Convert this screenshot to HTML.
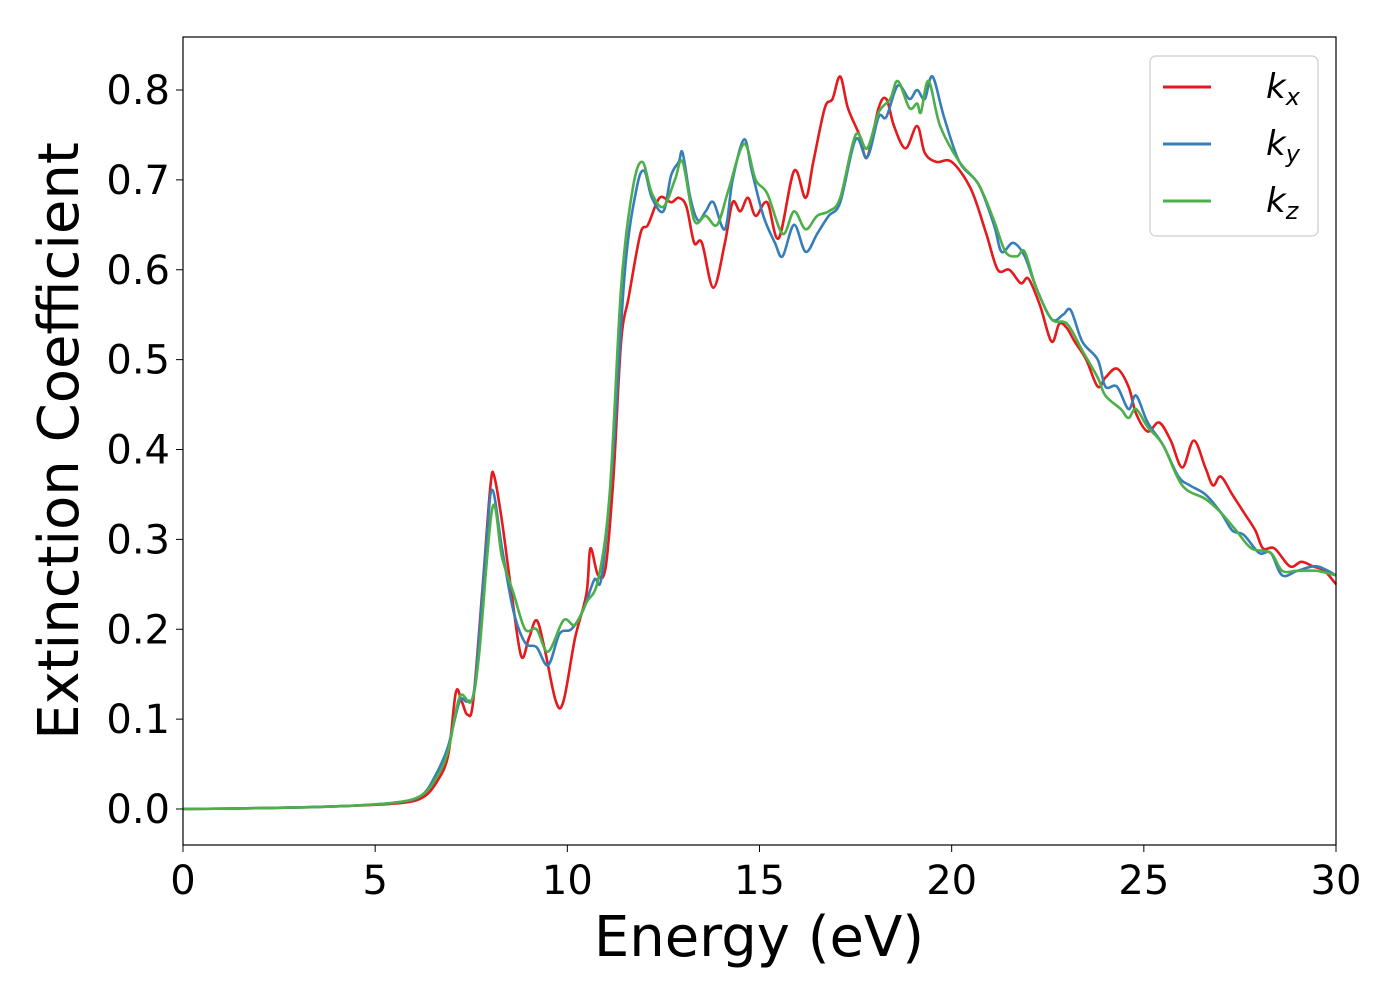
<!DOCTYPE html>
<html><head><meta charset="utf-8"><style>
body{margin:0;background:#fff}
svg{display:block;font-family:"DejaVu Sans","Liberation Sans",sans-serif}
</style></head><body>
<svg id="chart" width="1400" height="1000">
<rect x="0" y="0" width="1400" height="1000" fill="#fff"/>
<g id="series"></g>
<rect x="183" y="37" width="1153" height="808" fill="none" stroke="#000" stroke-width="1.2"/>
<g id="xticks"></g>
<g id="yticks"></g>
<text x="759" y="956" font-size="56" text-anchor="middle">Energy (eV)</text>
<text transform="translate(78,441) rotate(-90)" font-size="56" text-anchor="middle">Extinction Coefficient</text>
<g>
<rect x="1150" y="56" width="168" height="180" rx="6" fill="#fff" stroke="#ccc" stroke-width="1.2"/>
<g><line x1="1163" y1="87" x2="1211" y2="87" stroke="#e41a1c" stroke-width="3"/><text x="1266" y="98" font-size="34" font-style="italic">k<tspan font-size="24" dy="7">x</tspan></text></g>
<g><line x1="1163" y1="144" x2="1211" y2="144" stroke="#377eb8" stroke-width="3"/><text x="1266" y="155" font-size="34" font-style="italic">k<tspan font-size="24" dy="7">y</tspan></text></g>
<g><line x1="1163" y1="201" x2="1211" y2="201" stroke="#4daf4a" stroke-width="3"/><text x="1266" y="212" font-size="34" font-style="italic">k<tspan font-size="24" dy="7">z</tspan></text></g>
</g>
</svg>
<script>
const xTicks=[0,5,10,15,20,25,30];
const yTicks=[0,0.1,0.2,0.3,0.4,0.5,0.6,0.7,0.8];
const kxE=[0,2,4,5.5,6.2,6.6,6.9,7.1,7.25,7.4,7.55,7.8,8.0,8.1,8.3,8.55,8.8,9.0,9.2,9.4,9.7,9.9,10.2,10.5,10.6,10.8,11.0,11.2,11.4,11.6,11.9,12.1,12.4,12.7,12.9,13.1,13.3,13.5,13.8,14.1,14.3,14.5,14.7,14.9,15.2,15.5,15.9,16.2,16.4,16.7,16.9,17.1,17.3,17.6,17.8,18.1,18.3,18.5,18.8,19.1,19.3,19.6,20.0,20.5,20.9,21.2,21.5,21.8,22.0,22.3,22.6,22.8,23.0,23.2,23.5,23.8,24.0,24.3,24.6,24.8,25.1,25.4,25.7,26.0,26.3,26.6,26.8,27.0,27.3,27.6,27.9,28.1,28.4,28.8,29.1,29.4,29.7,30];
const kxV=[0,0.001,0.003,0.006,0.012,0.03,0.06,0.13,0.12,0.105,0.12,0.25,0.36,0.37,0.32,0.24,0.17,0.19,0.21,0.18,0.12,0.12,0.19,0.24,0.29,0.26,0.27,0.37,0.52,0.57,0.64,0.65,0.68,0.675,0.68,0.67,0.63,0.63,0.58,0.63,0.675,0.665,0.68,0.66,0.675,0.635,0.71,0.68,0.72,0.78,0.79,0.815,0.78,0.75,0.725,0.78,0.79,0.76,0.735,0.76,0.73,0.72,0.72,0.69,0.64,0.6,0.6,0.585,0.59,0.56,0.52,0.54,0.535,0.52,0.5,0.47,0.48,0.49,0.47,0.44,0.42,0.43,0.41,0.38,0.41,0.38,0.36,0.37,0.35,0.33,0.31,0.29,0.29,0.27,0.275,0.27,0.265,0.25];
const kyE=[0,2,4,5.5,6.2,6.6,6.9,7.2,7.4,7.6,7.9,8.05,8.3,8.6,8.9,9.2,9.5,9.8,10.1,10.4,10.7,10.9,11.2,11.5,11.8,12.0,12.2,12.5,12.7,12.9,13.0,13.2,13.4,13.6,13.8,14.1,14.3,14.6,14.8,15.1,15.4,15.6,15.9,16.2,16.5,16.8,17.1,17.5,17.8,18.1,18.3,18.6,18.9,19.1,19.3,19.5,19.8,20.2,20.7,21.1,21.3,21.6,21.9,22.2,22.6,22.9,23.1,23.4,23.8,24.0,24.3,24.6,24.8,25.1,25.5,25.9,26.2,26.6,27.0,27.3,27.6,28.0,28.3,28.6,29.0,29.5,30];
const kyV=[0,0.001,0.003,0.007,0.015,0.04,0.07,0.12,0.12,0.14,0.3,0.355,0.29,0.22,0.185,0.18,0.16,0.195,0.2,0.22,0.255,0.26,0.4,0.6,0.69,0.71,0.68,0.665,0.705,0.72,0.73,0.68,0.655,0.665,0.675,0.645,0.7,0.745,0.71,0.66,0.63,0.615,0.65,0.62,0.64,0.66,0.675,0.745,0.725,0.77,0.77,0.805,0.79,0.8,0.79,0.815,0.77,0.72,0.695,0.65,0.62,0.63,0.615,0.58,0.545,0.55,0.555,0.52,0.5,0.47,0.47,0.445,0.46,0.43,0.405,0.37,0.36,0.35,0.33,0.31,0.305,0.285,0.285,0.26,0.265,0.27,0.26];
const kzE=[0,2,4,5.5,6.2,6.6,6.9,7.2,7.5,7.7,8.05,8.3,8.6,8.9,9.2,9.5,9.9,10.2,10.5,10.8,11.1,11.4,11.7,11.95,12.2,12.5,12.8,13.0,13.3,13.6,13.9,14.2,14.6,14.9,15.2,15.6,15.9,16.2,16.5,16.8,17.1,17.5,17.8,18.1,18.4,18.6,18.9,19.1,19.2,19.4,19.7,20.2,20.7,21.1,21.4,21.7,21.9,22.2,22.6,23.0,23.4,23.8,24.0,24.4,24.6,24.8,25.1,25.5,26.0,26.6,27.0,27.4,27.8,28.3,28.6,29.0,29.5,30];
const kzV=[0,0.001,0.003,0.007,0.015,0.035,0.065,0.125,0.12,0.17,0.335,0.28,0.24,0.2,0.2,0.175,0.21,0.205,0.23,0.255,0.35,0.58,0.69,0.72,0.685,0.67,0.7,0.72,0.655,0.66,0.65,0.69,0.74,0.7,0.685,0.64,0.665,0.645,0.66,0.665,0.68,0.75,0.735,0.775,0.79,0.81,0.78,0.785,0.775,0.81,0.76,0.72,0.695,0.655,0.62,0.615,0.62,0.58,0.545,0.54,0.51,0.48,0.46,0.445,0.435,0.445,0.425,0.405,0.36,0.345,0.33,0.31,0.29,0.285,0.265,0.265,0.265,0.26];

const X0=183,X1=1336,Y0=809,YS=898.75;
function sx(e){return X0+(e-0)/(30-0)*(X1-X0);}
function sy(v){return Y0-v*YS;}
const NS="http://www.w3.org/2000/svg";
function pathFor(E,V){
  const p=E.map((e,i)=>[sx(e),sy(V[i])]);
  let d="M"+p[0][0].toFixed(1)+","+p[0][1].toFixed(1);
  for(let i=0;i<p.length-1;i++){
    const a=p[Math.max(i-1,0)],b=p[i],c=p[i+1],f=p[Math.min(i+2,p.length-1)];
    const c1=[b[0]+(c[0]-a[0])/6,b[1]+(c[1]-a[1])/6];
    const c2=[c[0]-(f[0]-b[0])/6,c[1]-(f[1]-b[1])/6];
    d+="C"+c1[0].toFixed(1)+","+c1[1].toFixed(1)+" "+c2[0].toFixed(1)+","+c2[1].toFixed(1)+" "+c[0].toFixed(1)+","+c[1].toFixed(1);
  }
  return d;
}
const g=document.getElementById("series");
[[kxE,kxV,"#e41a1c","line-kx"],[kyE,kyV,"#377eb8","line-ky"],[kzE,kzV,"#4daf4a","line-kz"]].forEach(s=>{
  const el=document.createElementNS(NS,"path");
  el.setAttribute("d",pathFor(s[0],s[1]));
  el.setAttribute("fill","none");el.setAttribute("stroke",s[2]);el.setAttribute("stroke-width","2.6");
  
  
  g.appendChild(el);
});
const xg=document.getElementById("xticks");
xTicks.forEach(t=>{
  const x=sx(t);
  const ln=document.createElementNS(NS,"line");
  ln.setAttribute("x1",x);ln.setAttribute("x2",x);ln.setAttribute("y1",845);ln.setAttribute("y2",852);ln.setAttribute("stroke","#000");
  
  
  xg.appendChild(ln);
  const tx=document.createElementNS(NS,"text");
  tx.setAttribute("x",x);tx.setAttribute("y",894);tx.setAttribute("font-size","40");tx.setAttribute("text-anchor","middle");
  tx.textContent=t;
  
  
  xg.appendChild(tx);
});
const yg=document.getElementById("yticks");
yTicks.forEach(t=>{
  const y=sy(t);
  const ln=document.createElementNS(NS,"line");
  ln.setAttribute("x1",176);ln.setAttribute("x2",183);ln.setAttribute("y1",y);ln.setAttribute("y2",y);ln.setAttribute("stroke","#000");
  
  
  yg.appendChild(ln);
  const tx=document.createElementNS(NS,"text");
  tx.setAttribute("x",170);tx.setAttribute("y",y+14);tx.setAttribute("font-size","40");tx.setAttribute("text-anchor","end");
  tx.textContent=t.toFixed(1);
  
  
  yg.appendChild(tx);
});
</script>
</body></html>
